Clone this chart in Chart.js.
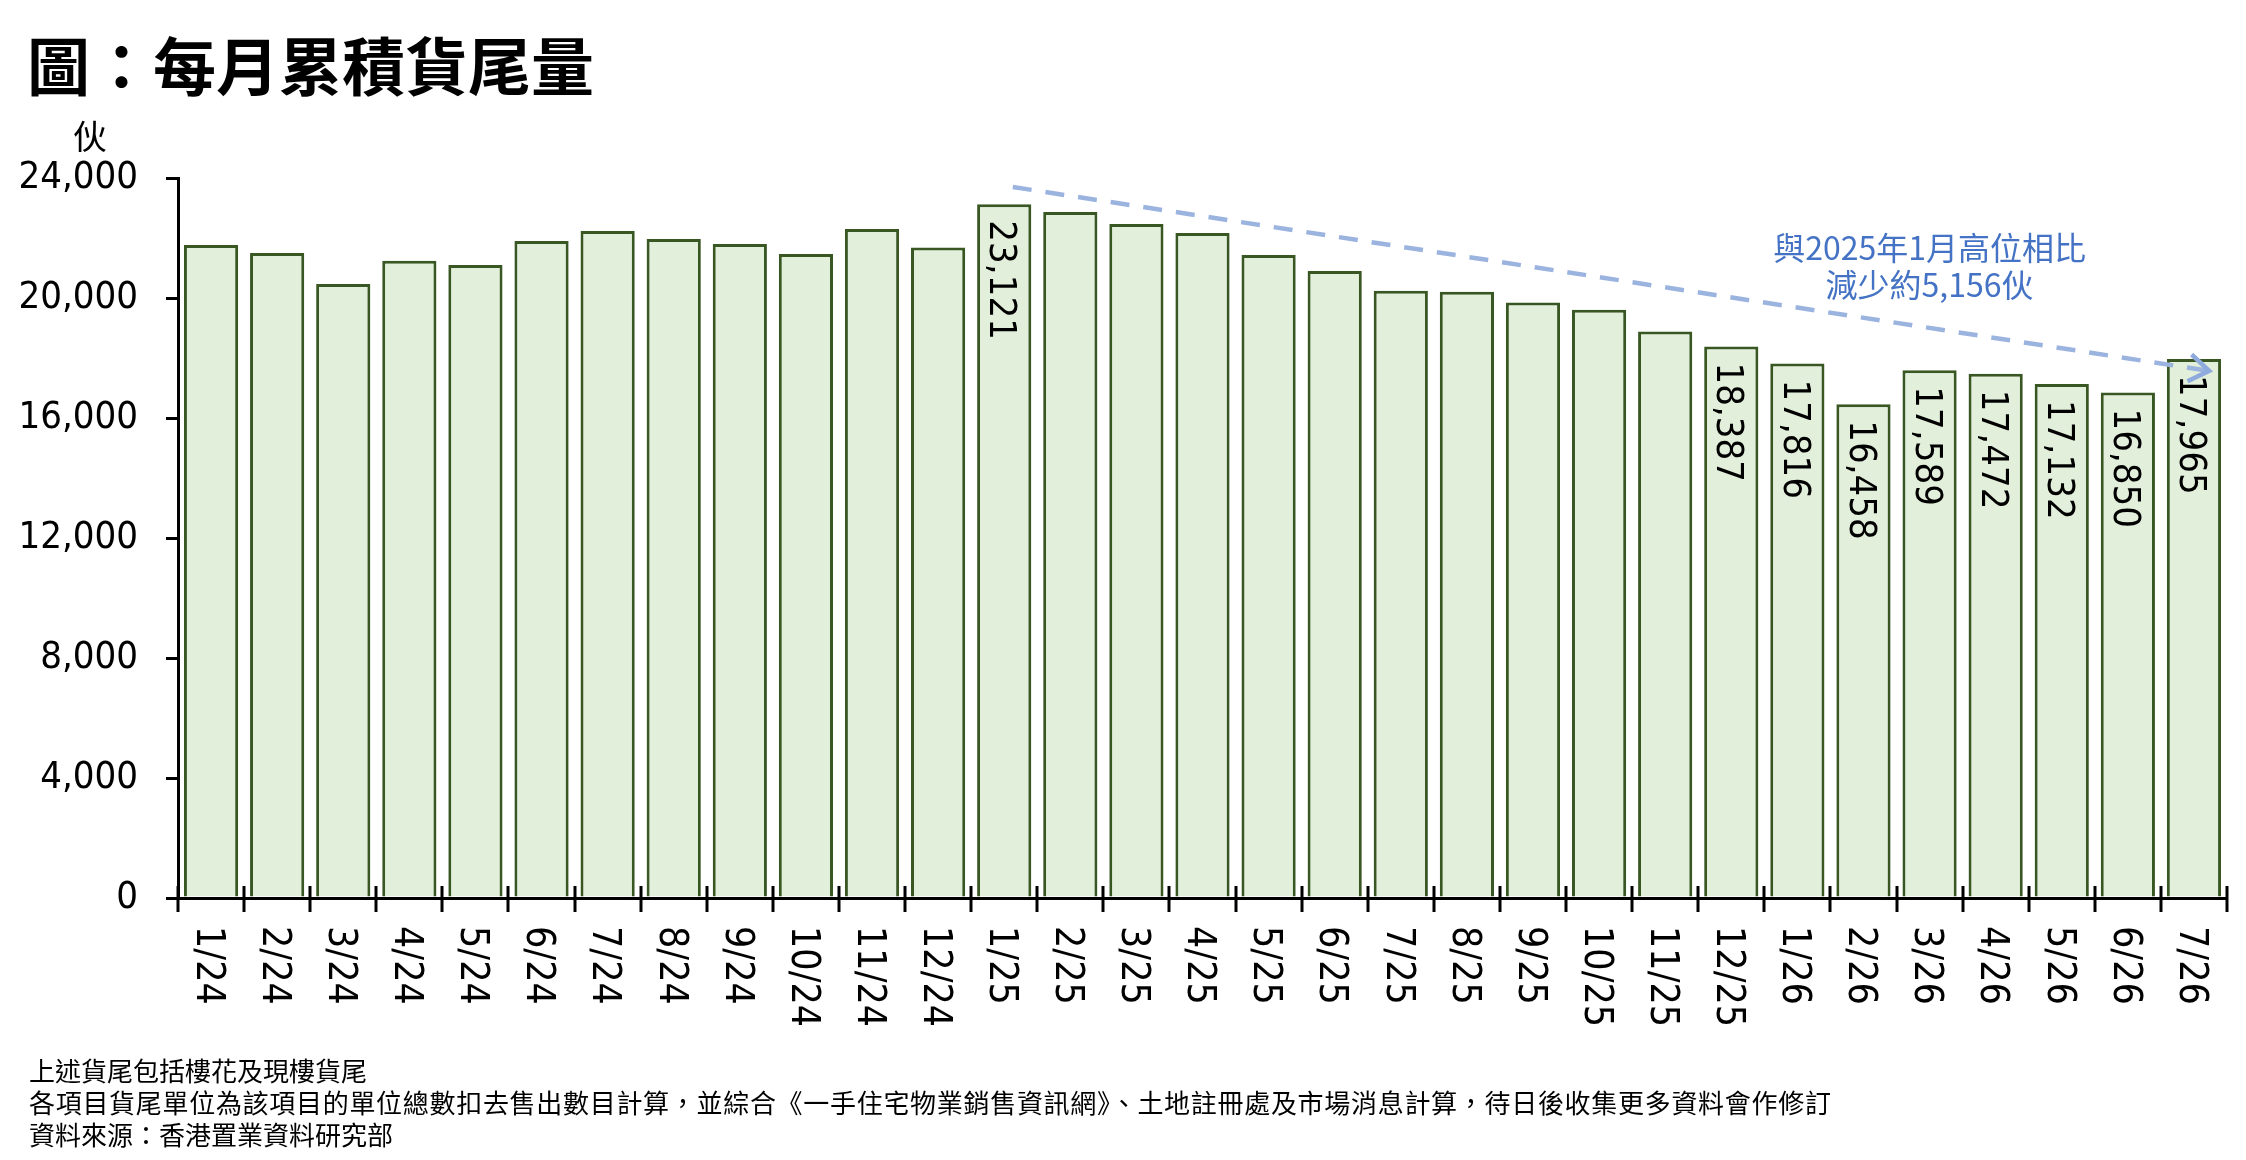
<!DOCTYPE html>
<html><head><meta charset="utf-8">
<script src="https://cdn.jsdelivr.net/npm/chart.js@4.4.0/dist/chart.umd.min.js"></script>
<style>
html,body{margin:0;padding:0;background:#fff;}
#wrap{position:relative;width:2246px;height:1160px;overflow:hidden;background:#fff;}
#c{position:absolute;left:0;top:0;width:2246px;height:1160px;}
.t{position:absolute;white-space:nowrap;font-family:"Noto Sans CJK TC","Noto Sans CJK SC",sans-serif;color:#000;}
#title{left:27px;top:29px;font-size:63px;line-height:68px;font-weight:700;}
#unit{left:73px;top:115px;font-size:34px;line-height:40px;}
#foot{left:29px;top:1054px;font-size:26px;line-height:32px;}
#foot span{letter-spacing:0.7px;}
</style></head>
<body><div id="wrap"><canvas id="c" width="2246" height="1160"></canvas>
<div class="t" id="title">圖：每月累積貨尾量</div>
<div class="t" id="unit">伙</div>
<div class="t" id="foot">上述貨尾包括樓花及現樓貨尾<br><span>各項目貨尾單位為該項目的單位總數扣去售出數目計算，並綜合《一手住宅物業銷售資訊網》、土地註冊處及市場消息計算，待日後收集更多資料會作修訂</span><br>資料來源：香港置業資料研究部</div>
</div>
<script>
const months = ['1/24','2/24','3/24','4/24','5/24','6/24','7/24','8/24','9/24','10/24','11/24','12/24',
  '1/25','2/25','3/25','4/25','5/25','6/25','7/25','8/25','9/25','10/25','11/25','12/25',
  '1/26','2/26','3/26','4/26','5/26','6/26','7/26'];
const stockUnits = [21770,21500,20470,21240,21100,21900,22230,21970,21800,21470,22300,21680,
  23121,22870,22470,22170,21430,20900,20240,20210,19850,19610,18880,18387,
  17816,16458,17589,17472,17132,16850,17965];
const labelledMonths = ['1/25','12/25','1/26','2/26','3/26','4/26','5/26','6/26','7/26'];
const yTicks = [0,4000,8000,12000,16000,20000,24000];
const trendFrom = {index:12.13, value:23700};
const trendTo = {index:30.23, value:17570};
const noteLines = ['與2025年1月高位相比','減少約5,156伙'];
const noteMonth = '3/26';
const noteValues = [21670,20430];

const fmt = v => v.toLocaleString('en-US');
const NUMFONT = '"DejaVu Sans Condensed","DejaVu Sans",sans-serif';

const overlay = {
  id:'overlay',
  afterDatasetsDraw(chart){
    const ctx = chart.ctx, xs = chart.scales.x, ys = chart.scales.y;
    ctx.save();
    const fs = 38, h = 0.729*fs;
    ctx.font = fs+'px '+NUMFONT;
    ctx.fillStyle = '#000'; ctx.textAlign = 'left'; ctx.textBaseline = 'alphabetic';
    const meta = chart.getDatasetMeta(0);
    meta.data.forEach((bar,i)=>{
      if(!labelledMonths.includes(months[i])) return;
      ctx.save(); ctx.translate(bar.x, bar.y + 16); ctx.rotate(Math.PI/2);
      ctx.fillText(fmt(stockUnits[i]), 0, h/2); ctx.restore();
    });
    const x0 = xs.getPixelForValue(trendFrom.index), y0 = ys.getPixelForValue(trendFrom.value);
    const x1 = xs.getPixelForValue(trendTo.index), y1 = ys.getPixelForValue(trendTo.value);
    ctx.strokeStyle = '#9BB3DF'; ctx.lineWidth = 4.5; ctx.lineCap = 'butt';
    ctx.setLineDash([19,14]);
    ctx.beginPath(); ctx.moveTo(x0,y0); ctx.lineTo(x1-4,y1-0.6); ctx.stroke();
    ctx.setLineDash([]);
    const ang = Math.atan2(y1-y0, x1-x0), L = 24, a = 0.6;
    ctx.strokeStyle = '#8FAADC'; ctx.lineWidth = 4.5; ctx.lineJoin='miter';
    ctx.beginPath();
    ctx.moveTo(x1 - L*Math.cos(ang-a), y1 - L*Math.sin(ang-a));
    ctx.lineTo(x1, y1);
    ctx.lineTo(x1 - L*Math.cos(ang+a), y1 - L*Math.sin(ang+a));
    ctx.stroke();
    ctx.font = '32px "Noto Sans CJK TC","Noto Sans CJK SC",sans-serif';
    ctx.fillStyle = '#4472C4'; ctx.textAlign = 'center'; ctx.textBaseline = 'middle';
    const nx = xs.getPixelForValue(months.indexOf(noteMonth));
    noteLines.forEach((s,k)=> ctx.fillText(s, nx, ys.getPixelForValue(noteValues[k])));
    ctx.restore();
  },
  afterDraw(chart){
    const ctx = chart.ctx, xs = chart.scales.x, area = chart.chartArea;
    ctx.save();
    ctx.strokeStyle = '#000'; ctx.lineWidth = 3;
    for(let i=0;i<=months.length;i++){
      const px = Math.round(xs.getPixelForValue(i-0.5));
      ctx.beginPath(); ctx.moveTo(px, area.bottom-12); ctx.lineTo(px, area.bottom+14); ctx.stroke();
    }
    const fs = 39, h = 0.729*fs;
    ctx.font = fs+'px '+NUMFONT;
    ctx.fillStyle = '#000'; ctx.textAlign = 'left'; ctx.textBaseline = 'alphabetic';
    months.forEach((m,i)=>{
      const px = xs.getPixelForValue(i);
      ctx.save(); ctx.translate(px, area.bottom + 28); ctx.rotate(Math.PI/2);
      ctx.fillText(m, 0, h/2); ctx.restore();
    });
    ctx.restore();
  }
};

new Chart(document.getElementById('c'), {
  type:'bar',
  data:{ labels: months, datasets:[{ data: stockUnits, backgroundColor:'#E2EFDA', borderColor:'#385723',
    borderWidth:3, barPercentage:0.82, categoryPercentage:1.0 }]},
  options:{
    responsive:false, animation:false, devicePixelRatio:1,
    layout:{ padding:{ left:0, right:19, top:178, bottom:0 } },
    plugins:{ legend:{display:false}, tooltip:{enabled:false} },
    scales:{
      x:{
        grid:{ display:false },
        border:{ display:true, color:'#000', width:3 },
        ticks:{ display:false },
        afterFit(s){ s.height = 1160 - 898; }
      },
      y:{
        min:0, max:24000,
        afterBuildTicks(s){ s.ticks = yTicks.map(v=>({value:v})); },
        grid:{ display:true, drawOnChartArea:false, drawTicks:true, tickLength:12, color:'#000', lineWidth:3 },
        border:{ display:true, color:'#000', width:3 },
        ticks:{ padding:28, color:'#000', font:{ family:'"DejaVu Sans Condensed","DejaVu Sans",sans-serif', size:38 },
          callback:v=>fmt(v) },
        afterFit(s){ s.width = 178; }
      }
    }
  },
  plugins:[overlay]
});
</script>
</body></html>
